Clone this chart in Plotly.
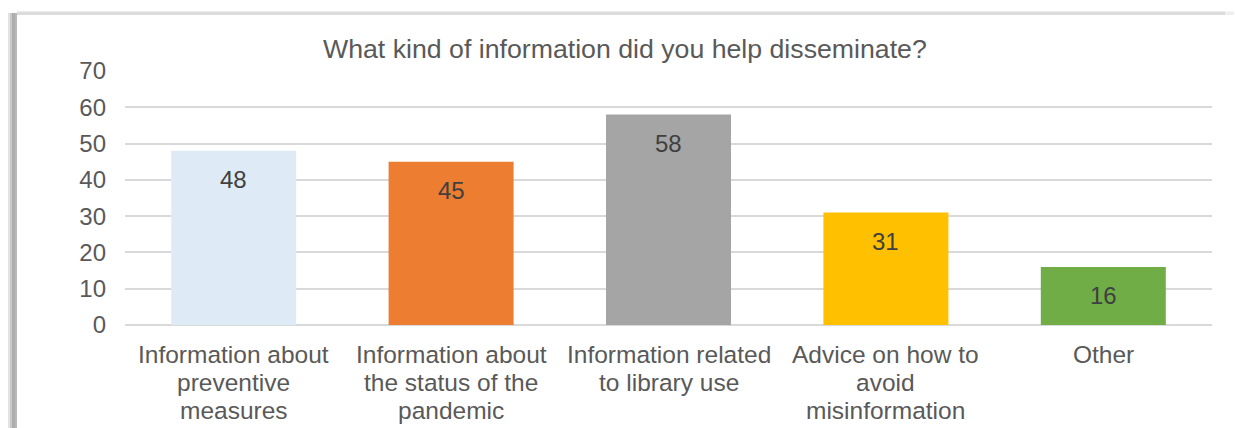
import plotly.graph_objects as go

# Survey responses
categories = [
    "Information about<br>preventive<br>measures",
    "Information about<br>the status of the<br>pandemic",
    "Information related<br>to library use",
    "Advice on how to<br>avoid<br>misinformation",
    "Other",
]
counts = [48, 45, 58, 31, 16]
bar_colors = ["#DEEBF7", "#ED7D31", "#A5A5A5", "#FFC000", "#70AD47"]
y_ticks = [0, 10, 20, 30, 40, 50, 60, 70]
title_text = "What kind of information did you help disseminate?"

W, H = 1235, 428
ML, MR, MT, MB = 125, 23, 71, 103
PW, PH = W - ML - MR, H - MT - MB
FONT = "Arial, Liberation Sans, sans-serif"


def px_x(px):
    return (px - ML) / PW


def px_y(py):
    return (H - MB - py) / PH


fig = go.Figure(
    go.Bar(
        x=list(range(len(categories))),
        y=counts,
        marker=dict(color=bar_colors, line=dict(width=0)),
        hoverinfo="skip",
    )
)

annotations = []
# value labels inside the top of each bar
for i, v in enumerate(counts):
    annotations.append(dict(
        x=i, y=v, xref="x", yref="y", text=str(v), showarrow=False,
        yanchor="top", yshift=-13,
        font=dict(family=FONT, size=24, color="#404040"),
    ))

# multi-line category labels under the axis, tighter line spacing
for i, label in enumerate(categories):
    for j, line in enumerate(label.split("<br>")):
        annotations.append(dict(
            x=i, y=px_y(354 + 28 * j), xref="x", yref="paper",
            text=line, showarrow=False, yanchor="middle", xanchor="center",
            font=dict(family=FONT, size=24.5, color="#595959"),
        ))

# chart title, centred over the frame
annotations.append(dict(
    x=px_x(625), y=px_y(49), xref="paper", yref="paper", text=title_text,
    showarrow=False, xanchor="center", yanchor="middle",
    font=dict(family=FONT, size=26.7, color="#595959"),
))

shapes = []
# soft frame shadow: top edge
shapes.append(dict(type="rect", xref="paper", yref="paper",
                   x0=px_x(17), x1=px_x(1225), y0=px_y(15), y1=px_y(11.5),
                   fillcolor="#DCDCDC", line=dict(width=0), layer="below"))
shapes.append(dict(type="rect", xref="paper", yref="paper",
                   x0=px_x(1225), x1=px_x(1234), y0=px_y(15), y1=px_y(11.5),
                   fillcolor="#EEEEEE", line=dict(width=0), layer="below"))
# soft frame shadow: left edge
for x0, x1, col in [(8, 10, "#E2E2E2"), (10, 12, "#C9C9C9"),
                    (12, 15, "#ADADAD"), (15, 17, "#B8B8B8")]:
    shapes.append(dict(type="rect", xref="paper", yref="paper",
                       x0=px_x(x0), x1=px_x(x1), y0=px_y(H), y1=px_y(13),
                       fillcolor=col, line=dict(width=0), layer="below"))

fig.update_layout(
    width=W, height=H,
    margin=dict(l=ML, r=MR, t=MT, b=MB),
    paper_bgcolor="white", plot_bgcolor="white",
    bargap=0.425,
    showlegend=False,
    annotations=annotations,
    shapes=shapes,
    xaxis=dict(
        range=[-0.5, len(categories) - 0.5],
        showticklabels=False, showgrid=False, zeroline=False, ticks="",
        fixedrange=True,
    ),
    yaxis=dict(
        range=[0, 70], tickvals=y_ticks, ticktext=[str(t) for t in y_ticks],
        showgrid=True, gridcolor="#D9D9D9", gridwidth=1.5,
        zeroline=True, zerolinecolor="#D9D9D9", zerolinewidth=1.5,
        ticks="", ticklabelstandoff=18,
        tickfont=dict(family=FONT, size=24, color="#595959"),
        fixedrange=True,
    ),
)

fig.write_html("out.html")
